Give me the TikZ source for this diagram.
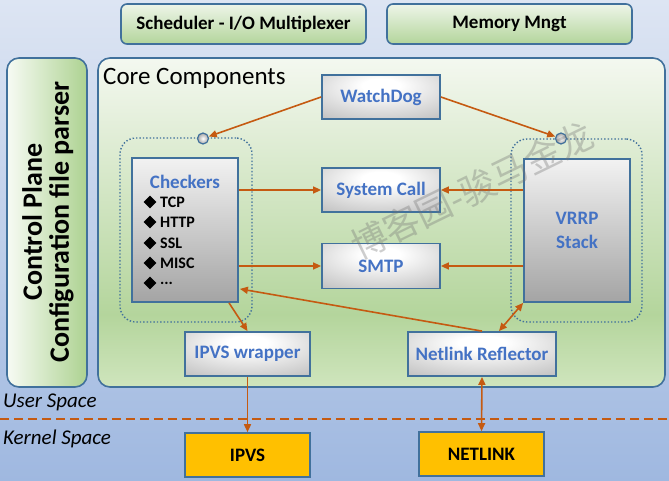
\documentclass[tikz,border=0pt]{standalone}
\usepackage{fontspec}
\setmainfont{Carlito}
\newfontfamily\cjkfont{Noto Sans CJK SC}
\usetikzlibrary{arrows.meta,shapes.geometric,calc}
\definecolor{bord}{HTML}{41719C}
\definecolor{arr}{HTML}{C55A11}
\definecolor{txtblue}{HTML}{4472C4}
\definecolor{bgtop}{HTML}{DDE5F3}
\definecolor{bgbot}{HTML}{9FB8E0}
\definecolor{coreT}{HTML}{F4F8F0}
\definecolor{coreM}{HTML}{B4D59C}
\definecolor{coreB}{HTML}{CFE5BD}
\definecolor{grnT}{HTML}{EEF5E9}
\definecolor{grnB}{HTML}{B3D59B}
\definecolor{panL}{HTML}{F7FBF4}
\definecolor{panR}{HTML}{ADD291}
\definecolor{glowA}{HTML}{FFFFFF}
\definecolor{glowB}{HTML}{A2A2A2}
\definecolor{tallT}{HTML}{F2F2F2}
\definecolor{tallB}{HTML}{A4A4A4}
\definecolor{kern}{HTML}{FFC000}
\pgfdeclareradialshading{grayglow}{\pgfpoint{0bp}{14bp}}{color(0bp)=(glowA); color(8bp)=(glowA); color(58bp)=(glowB); color(100bp)=(glowB)}
\pgfdeclareverticalshading{coregrad}{100bp}{color(0bp)=(coreB); color(25bp)=(coreB); color(36bp)=(coreM); color(75bp)=(coreT); color(100bp)=(coreT)}
\newcommand\fsz[2]{\fontsize{#1}{#2}\selectfont}
\tikzset{
  greenbox/.style={draw=bord, line width=1.6pt, rounded corners=6pt, top color=grnT, bottom color=grnB, font=\bfseries\fsz{19}{23}},
  graybox/.style={draw=bord, line width=1.8pt, shading=grayglow, text=txtblue, font=\bfseries\fsz{19}{23}, inner sep=0pt},
  tallbox/.style={draw=bord, line width=1.8pt, top color=tallT, bottom color=tallB, text=txtblue, font=\bfseries\fsz{19}{24}, inner sep=0pt, align=center},
  dotframe/.style={draw=bord, line width=1.4pt, dotted, rounded corners=16pt, inner sep=0pt},
  knob/.style={circle, draw=bord, line width=1.2pt, minimum size=11pt, inner sep=0pt, inner color=white, outer color=black!35},
  kernbox/.style={draw=bord, line width=1.6pt, fill=kern, font=\bfseries\fsz{19}{23}, inner sep=0pt},
  conn/.style={draw=arr, line width=1.6pt, -{Triangle[length=8pt,width=7pt]}},
  conn2/.style={draw=arr, line width=1.6pt, {Triangle[length=8pt,width=7pt]}-{Triangle[length=8pt,width=7pt]}},
  item/.style={anchor=west, font=\bfseries\fsz{16}{19}, inner sep=0pt},
  dia/.style={diamond, fill=black, minimum width=13pt, minimum height=13pt, inner sep=0pt}
}
\begin{document}
\begin{tikzpicture}[x=1pt,y=-1pt]
\useasboundingbox (0,0) rectangle (669,481);
\shade[top color=bgtop, bottom color=bgbot] (0,0) rectangle (669,481);

% top boxes
\node[greenbox, minimum width=245pt, minimum height=40pt] (sched) at (243.5,24) {Scheduler - I/O Multiplexer};
\node[greenbox, minimum width=245pt, minimum height=40pt] (mem) at (509.5,24) {Memory Mngt};

% control plane panel
\node[draw=bord, line width=1.6pt, rounded corners=12pt, left color=panL, right color=panR, minimum width=80pt, minimum height=329pt] (ctrl) at (47,222.5) {};
\node[rotate=90, align=center, font=\bfseries\fsz{28}{27}] (ctrltxt) at (48,222) {Control Plane\\Configuration file parser};

% core components
\node[draw=bord, line width=1.6pt, rounded corners=12pt, shading=coregrad, minimum width=567pt, minimum height=329pt] (core) at (381.5,222.5) {};
\node[anchor=base west, font=\fsz{25}{28}, inner sep=0pt] (coretitle) at (103,85) {Core Components};

% dotted frames
\node[dotframe, minimum width=132pt, minimum height=184pt] (chkframe) at (186,230) {};
\node[dotframe, minimum width=131pt, minimum height=183pt] (vrframe) at (576.5,230.5) {};

% gray boxes
\node[graybox, minimum width=118pt, minimum height=44pt] (watchdog) at (381,97) {WatchDog};
\node[graybox, minimum width=118pt, minimum height=44pt] (syscall) at (381,190) {System Call};
\node[graybox, minimum width=118pt, minimum height=45pt] (smtp) at (381,266) {SMTP};
\node[graybox, minimum width=125pt, minimum height=44pt] (ipvsw) at (247.5,354) {IPVS wrapper};
\node[graybox, minimum width=148pt, minimum height=44pt] (netlink) at (482,354) {Netlink Reflector};

% tall boxes
\node[tallbox, minimum width=106pt, minimum height=144pt] (checkers) at (185,230) {};
\node[text=txtblue, font=\bfseries\fsz{19}{23}] (chktitle) at (185,182) {Checkers};
\node[dia] (d1) at (150,202) {}; \node[item] (i1) at (160,202) {TCP};
\node[dia] (d2) at (150,222) {}; \node[item] (i2) at (160,222) {HTTP};
\node[dia] (d3) at (150,243) {}; \node[item] (i3) at (160,243) {SSL};
\node[dia] (d4) at (150,263) {}; \node[item] (i4) at (160,263) {MISC};
\node[dia] (d5) at (150,283) {}; \node[item] (i5) at (160,283) {...};

\node[tallbox, minimum width=106pt, minimum height=143pt] (vrrp) at (577,230.5) {VRRP\\Stack};

% knobs
\node[knob] (c1) at (203,138.5) {};
\node[knob] (c2) at (561,138.5) {};

% kernel boxes
\node[kernbox, minimum width=125pt, minimum height=44pt] (ipvs) at (247.5,455) {IPVS};
\node[kernbox, minimum width=125pt, minimum height=44pt] (nl) at (481.5,454) {NETLINK};

% space labels and divider
\node[anchor=west, font=\itshape\fsz{21}{24}, inner sep=0pt] (us) at (3,402) {User Space};
\node[anchor=west, font=\itshape\fsz{21}{24}, inner sep=0pt] (ks) at (3,439) {Kernel Space};
\coordinate (dl) at (0,419);
\coordinate (dr) at (669,419);
\draw[arr, line width=2pt, dash pattern=on 9pt off 5pt] (dl) -- (dr);

% connectors
\draw[conn] (watchdog.west) -- (c1);
\draw[conn] (watchdog.east) -- (c2);
\draw[conn] (checkers.east |- syscall.west) -- (syscall.west);
\draw[conn] (checkers.east |- smtp.west) -- (smtp.west);
\draw[conn] (vrrp.west |- syscall.east) -- (syscall.east);
\draw[conn] (vrrp.west |- smtp.east) -- (smtp.east);
\draw[conn] ($(checkers.south)+(44,0)$) -- (ipvsw.north);
\draw[conn] (netlink.north) -- ($(checkers.south east)+(1,-14)$);
\draw[conn2] (vrrp.south west) -- ($(netlink.north)+(17,0)$);
\draw[conn] (ipvsw.south) -- (ipvs.north);
\draw[conn2] (netlink.south) -- (nl.north);

% watermark
\node[rotate=26, text=black!55, opacity=0.35, font=\cjkfont\fsz{36}{36}] (wm) at (472,190) {博客园-骏马金龙};
\end{tikzpicture}
\end{document}
